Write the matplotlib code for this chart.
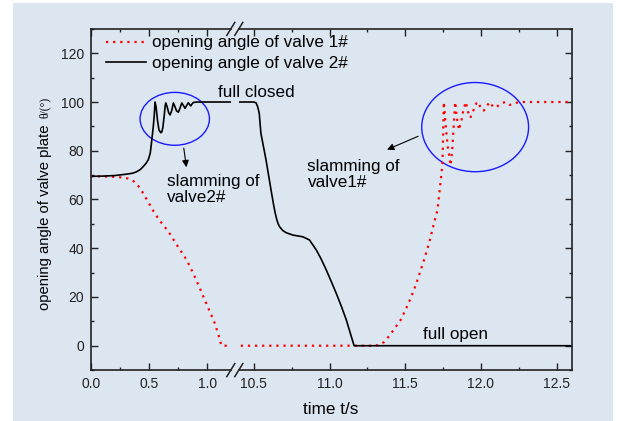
import matplotlib
matplotlib.use('Agg')
import matplotlib.pyplot as plt
from matplotlib.patches import Ellipse, Rectangle
from matplotlib.lines import Line2D

plt.rcParams['font.family'] = ['Liberation Sans', 'DejaVu Sans']

# valve 1# opening angle (red dotted), time in s
t_valve1 = [0.0, 0.1, 0.2, 0.28, 0.32, 0.36, 0.39, 0.42, 0.45, 0.49, 0.53, 0.57, 0.6,
            0.634, 0.68, 0.72, 0.76, 0.805, 0.85, 0.891, 0.935, 0.977, 1.02, 1.063,
            1.1, 1.12, 11.3, 11.33, 11.36, 11.381, 11.42, 11.469, 11.5, 11.536, 11.57,
            11.602, 11.63, 11.657, 11.69, 11.713, 11.735, 11.746, 11.755, 11.765, 11.78,
            11.80, 11.81, 11.82, 11.83, 11.84, 11.855, 11.87, 11.885, 11.9, 11.915,
            11.93, 11.95, 11.97, 11.985, 12.0, 12.02, 12.04, 12.06, 12.08, 12.10, 12.13,
            12.16, 12.19, 12.22, 12.25, 12.6]
a_valve1 = [69.5, 69.5, 69.3, 69.0, 68.6, 67.8, 66.6, 64.8, 62.5, 59.2, 55.8, 52.8, 50.8,
            48.8, 45.8, 42.7, 39.7, 36.5, 32.6, 28.3, 23.6, 18.8, 14.0, 9.2,
            3.5, 0.0, 0.0, 0.4, 1.5, 3.0, 6.2, 10.5, 14.5, 19.5, 25.0,
            31.0, 36.3, 42.0, 50.2, 55.7, 68.0, 74.8, 100.0, 92.0, 82.0,
            74.0, 80.0, 90.0, 100.0, 94.0, 88.5, 92.0, 97.0, 100.0, 96.0,
            93.5, 96.5, 99.5, 100.0, 97.0, 96.5, 98.5, 100.0, 98.0, 97.8, 99.3,
            100.0, 98.8, 99.3, 100.0, 100.0]

# valve 2# opening angle (black solid)
t_valve2 = [0.0, 0.1, 0.2, 0.308, 0.36, 0.394, 0.425, 0.45, 0.475, 0.494, 0.51, 0.52,
            0.536, 0.545, 0.551, 0.56, 0.572, 0.585, 0.6, 0.608, 0.618, 0.63, 0.638,
            0.643, 0.655, 0.668, 0.68, 0.694, 0.708, 0.72, 0.735, 0.751, 0.765,
            0.78, 0.795, 0.808, 0.822, 0.836, 0.846, 0.857, 0.868, 0.879, 0.91,
            10.5, 10.515, 10.525, 10.535, 10.546, 10.58, 10.613, 10.63, 10.64, 10.65,
            10.66, 10.67, 10.69, 10.712, 10.757, 10.823, 10.867, 10.912, 10.945, 10.978,
            11.01, 11.044, 11.08, 11.111, 11.14, 11.162, 12.6]
a_valve2 = [69.5, 69.6, 69.8, 70.4, 70.8, 71.4, 72.3, 73.5, 74.9, 76.4, 79.0, 83.0,
            89.9, 95.0, 100.0, 98.0, 92.5, 88.5, 87.4, 87.6, 89.5, 94.5, 98.5,
            99.6, 98.0, 95.6, 94.7, 96.5, 99.6, 98.3, 96.4, 95.8, 97.5,
            99.6, 98.5, 97.4, 98.6, 99.7, 99.0, 98.4, 99.2, 99.8, 100.0,
            100.0, 99.6, 98.0, 95.4, 87.2, 76.2, 63.9, 57.8, 54.6, 52.0,
            50.0, 48.8, 47.3, 46.4, 45.4, 44.7, 43.4, 39.3, 35.5, 31.1,
            26.5, 21.5, 15.8, 10.5, 4.5, 0.0, 0.0]

left_ticks = [0.0, 0.5, 1.0]
right_ticks = [10.5, 11.0, 11.5, 12.0, 12.5]
y_ticks = [0, 20, 40, 60, 80, 100, 120]

W, H = 619, 421
bg = '#dce6f1'


def fx(px):
    return px / W


def fy(py):
    return 1 - py / H


fig = plt.figure(figsize=(W / 100, H / 100), dpi=100)
fig.patch.set_facecolor('white')
fig.add_artist(Rectangle((fx(13), 0), fx(600), fy(3), transform=fig.transFigure,
                         facecolor=bg, edgecolor='none', zorder=-10))

top, bottom = 28.9, 370.1
axL = fig.add_axes([fx(90.7), fy(bottom), fx(230.8 - 90.7), (bottom - top) / H])
axR = fig.add_axes([fx(238.8), fy(bottom), fx(571.7 - 238.8), (bottom - top) / H])

for ax in (axL, axR):
    ax.set_facecolor('none')
    ax.plot(t_valve1, a_valve1, color='#ff0000', lw=1.6, linestyle=(0, (1, 2.2)))
    ax.plot(t_valve2, a_valve2, color='black', lw=1.2)
    ax.set_ylim(-10, 130)
    ax.set_yticks(y_ticks)
    ax.set_yticks(range(-10, 131, 10), minor=True)
    ax.tick_params(which='both', direction='in', top=True, labelsize=10, pad=5,
                   colors='#222222', width=1)
    ax.tick_params(which='major', length=5)
    ax.tick_params(which='minor', length=2.5)
    for s in ax.spines.values():
        s.set_linewidth(1.2)
        s.set_color('#222222')

axL.set_xlim(0, 1.2)
axL.set_xticks(left_ticks)
axL.set_xticks([0.25, 0.75], minor=True)
axL.set_xticklabels(['%.1f' % v for v in left_ticks])
axL.spines['right'].set_visible(False)
axL.tick_params(which='both', right=False)

axR.set_xlim(10.4, 12.6)
axR.set_xticks(right_ticks)
axR.set_xticks([10.75, 11.25, 11.75, 12.25], minor=True)
axR.set_xticklabels(['%.1f' % v for v in right_ticks])
axR.spines['left'].set_visible(False)
axR.tick_params(which='both', left=False, right=True, labelleft=False)

# break marks
for xc in (230.8, 238.8):
    for yc in (top, bottom):
        fig.add_artist(Line2D([fx(xc - 4), fx(xc + 4)], [fy(yc + 6.5), fy(yc - 6.5)],
                              transform=fig.transFigure, color='#222222', lw=1.1))

# annotations
fs = 12.3
axL.add_patch(Ellipse((0.72, 93.1), 0.594, 21.7, fill=False, edgecolor='#1a1aff', lw=1))
axR.add_patch(Ellipse((11.962, 89.7), 0.706, 36.6, fill=False, edgecolor='#1a1aff', lw=1))
axL.annotate('', xy=(0.823, 72.1), xytext=(0.794, 82.2),
             arrowprops=dict(arrowstyle='-|>', color='black', lw=0.8, mutation_scale=10))
axR.annotate('', xy=(11.363, 80.0), xytext=(11.602, 86.4),
             arrowprops=dict(arrowstyle='-|>', color='black', lw=0.8, mutation_scale=10))
axL.text(1.091, 104.1, 'full closed', fontsize=fs, ha='left', va='center', clip_on=False)
axL.text(0.651, 64.2, 'slamming of\nvalve2#', fontsize=fs, ha='left', va='center',
         linespacing=1.05)
axR.text(10.854, 70.2, 'slamming of\nvalve1#', fontsize=fs, ha='left', va='center',
         linespacing=1.05)
axR.text(11.62, 4.8, 'full open', fontsize=fs, ha='left', va='center')

# axis labels
fig.text(fx(331), fy(409), 'time t/s', fontsize=fs, ha='center', va='center')
fig.text(fx(45), fy(310), 'opening angle of valve plate', fontsize=10.7, rotation=90,
         ha='center', va='bottom')
fig.text(fx(45), fy(118), '\u03b8/(\u00b0)', fontsize=8.5, rotation=90, ha='center',
         va='bottom', family=['Liberation Serif', 'DejaVu Serif'])

# legend
handles = [Line2D([], [], color='#ff0000', lw=1.6, linestyle=(0, (1, 2.2))),
           Line2D([], [], color='black', lw=1.2)]
labels = ['opening angle of valve 1#', 'opening angle of valve 2#']
fig.legend(handles, labels, loc='upper left', bbox_to_anchor=(fx(106), fy(35.5)),
           frameon=False, fontsize=fs, handlelength=2.35, handletextpad=0.34,
           labelspacing=0.31, borderpad=0, borderaxespad=0)

fig.savefig('out.png', dpi=100)
